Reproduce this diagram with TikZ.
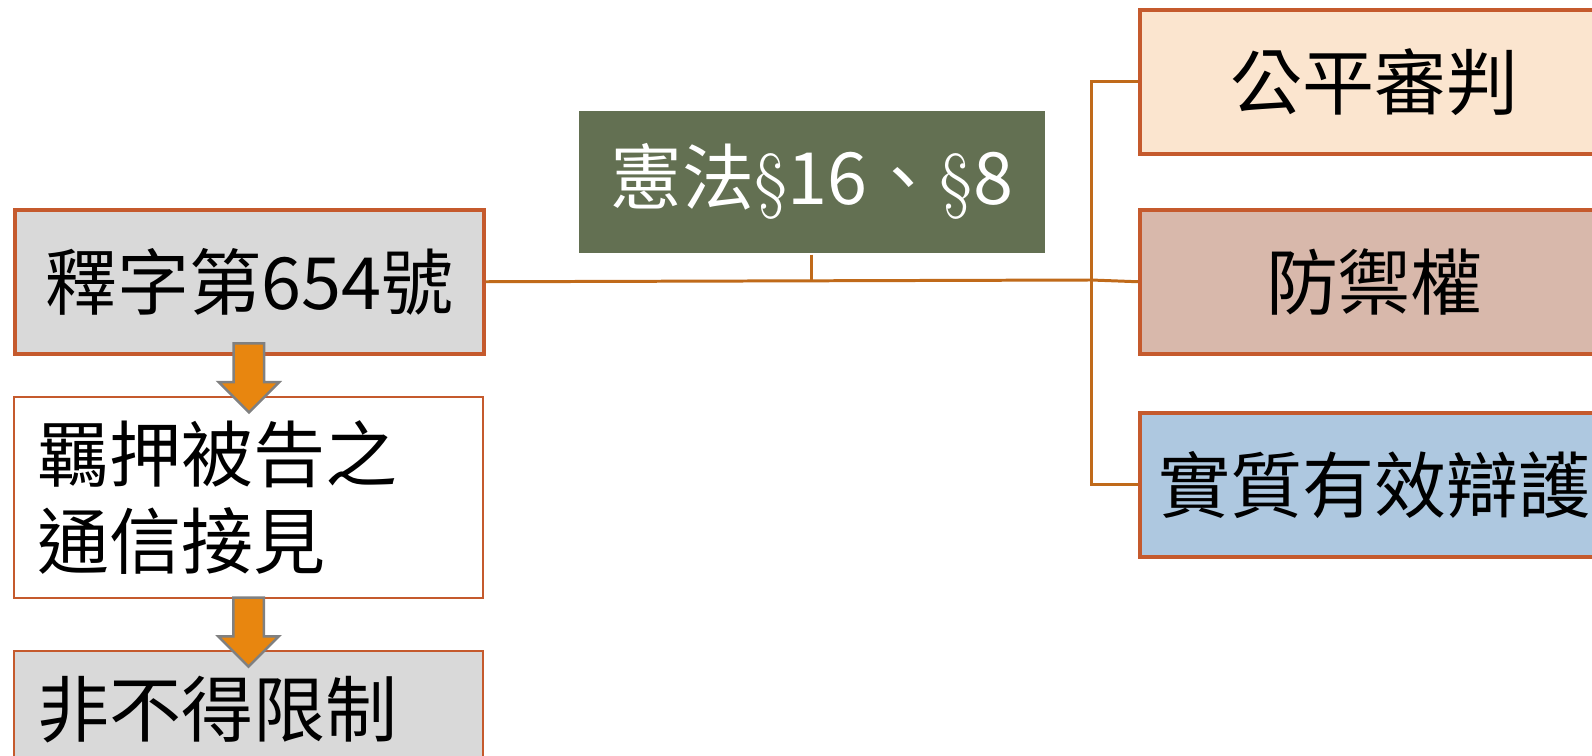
\documentclass[tikz,border=0pt]{standalone}
\usepackage{fontspec}
\newfontfamily\cjk{Noto Sans CJK TC}
\usepackage{tikz}
\usetikzlibrary{calc,positioning}
\usetikzlibrary{shapes.arrows}
\usepackage{xcolor}
\definecolor{rim}{RGB}{197,90,45}
\definecolor{wire}{RGB}{192,106,26}
\definecolor{boxgray}{RGB}{217,217,217}
\definecolor{olive}{RGB}{99,112,82}
\definecolor{peach}{RGB}{251,229,207}
\definecolor{rose}{RGB}{216,184,171}
\definecolor{sky}{RGB}{174,200,224}
\definecolor{flow}{RGB}{232,134,15}

\begin{document}
\begin{tikzpicture}[x=0.1mm, y=-0.1mm,
	main/.style = {draw=rim, line width=1pt, minimum width=46.9mm, minimum height=14.4mm, inner sep=0pt, anchor=north west, font=\cjk\fontsize{20.5pt}{25pt}\selectfont},
	side/.style = {main, align=left, text width=42.3mm, inner xsep=2.3mm, line width=0.6pt},
	link/.style = {draw=wire, line width=0.85pt},
	down/.style = {single arrow, draw=gray, line width=0.7pt, fill=flow, minimum height=6.9mm, inner xsep=0pt, inner ysep=1.4mm, single arrow head extend=1.5mm, rotate=-90}]
	\useasboundingbox (0,0) rectangle (1592,756);
	\fill[white] (0,0) rectangle (1592,756);
	\clip (0,0) rectangle (1592,756);
	% left column
	\node[main, fill=boxgray] (shi) at (13,208) {釋字第654號};
	\node[side, fill=white, minimum height=20.1mm] (ya) at (13,396) {羈押被告之\\通信接見};
	\node[side, fill=boxgray, minimum height=11.8mm] (fei) at (13,650) {非不得限制};
	% middle
	\node[main, draw=none, fill=olive, text=white, minimum width=46.6mm, minimum height=14.2mm] (xian) at (577,109) {憲法{\rmfamily\S}16、{\rmfamily\S}8};
	% right column
	\node[main, fill=peach] (gp) at (1138,8) {公平審判};
	\node[main, fill=rose] (fy) at (1138,208) {防禦權};
	\node[main, fill=sky] (sz) at (1138,411) {實質有效辯護};
	% block arrows
	\node[down] (a1) at ($(shi.south)!0.5!(ya.north) + (0,-5.5)$) {};
	\node[down] (a2) at ($(ya.south)!0.5!(fei.north)$) {};
	% lines
	\coordinate (hub) at (1091,280);
	\draw[link] (shi.east) -- (hub);
	\draw[link] (xian.south) -- (xian.south |- hub);
	\draw[link] (hub) |- (gp.west);
	\draw[link] (hub) -- (fy.west);
	\draw[link] (hub) |- (sz.west);
\end{tikzpicture}
\end{document}
